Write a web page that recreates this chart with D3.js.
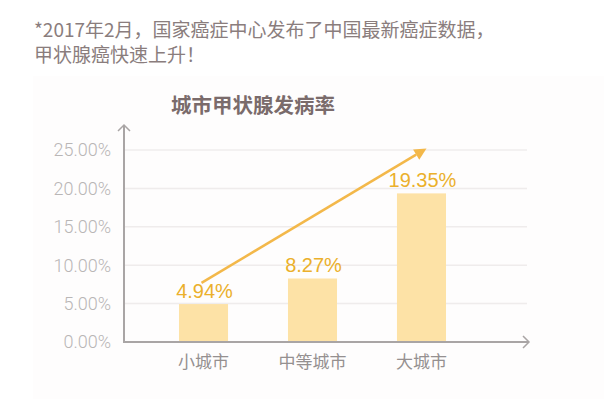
<!DOCTYPE html>
<html>
<head>
<meta charset="utf-8">
<script src="https://cdn.jsdelivr.net/npm/d3@7"></script>
<style>
  body { margin: 0; background: #fff; }
  svg { display: block; font-family: "Noto Sans CJK SC", "Noto Sans", sans-serif; }
</style>
</head>
<body>
<svg id="chart" width="604" height="399"></svg>
<script>
var categories = ["小城市", "中等城市", "大城市"];
var rates = [4.94, 8.27, 19.35];
var tickValues = [0, 5, 10, 15, 20, 25];
var headerLines = ["*2017年2月，国家癌症中心发布了中国最新癌症数据，", "甲状腺癌快速上升！"];
var chartTitle = "城市甲状腺发病率";

var svg = d3.select("#chart");

// faint panel behind the chart
svg.append("rect")
  .attr("x", 33).attr("y", 76)
  .attr("width", 571).attr("height", 323)
  .attr("fill", "#fefdfd");

svg.selectAll(".header")
  .data(headerLines)
  .enter()
  .append("text")
  .attr("class", "header")
  .attr("x", 34)
  .attr("y", function(d, i){ return 37 + i * 25; })
  .attr("font-size", 19)
  .attr("fill", "#8a7d7d")
  .text(function(d){ return d; });

svg.append("text")
  .attr("x", 253)
  .attr("y", 113)
  .attr("text-anchor", "middle")
  .attr("font-size", 20.5)
  .attr("font-weight", "bold")
  .attr("fill", "#7a6b6b")
  .text(chartTitle);

var y = d3.scaleLinear().domain([0, 25]).range([342, 150]);
var x = d3.scaleBand()
  .domain(categories)
  .range([124.5, 500.5])
  .paddingInner(0.55)
  .paddingOuter(0.5);

// grid lines
svg.selectAll(".grid")
  .data(tickValues.slice(1))
  .enter()
  .append("line")
  .attr("x1", 125).attr("x2", 527)
  .attr("y1", function(d){ return y(d); })
  .attr("y2", function(d){ return y(d); })
  .attr("stroke", "#efecec")
  .attr("stroke-width", 1.5);

// y tick labels
svg.selectAll(".ytick")
  .data(tickValues)
  .enter()
  .append("text")
  .attr("x", 111)
  .attr("y", function(d){ return y(d); })
  .attr("dy", "0.36em")
  .attr("text-anchor", "end")
  .attr("font-family", "Roboto, 'Liberation Sans', sans-serif")
  .attr("font-size", 18)
  .attr("font-weight", 300)
  .attr("fill", "#b9b6b6")
  .text(function(d){ return d3.format(".2f")(d) + "%"; });

// bars
svg.selectAll(".bar")
  .data(rates)
  .enter()
  .append("rect")
  .attr("x", function(d, i){ return x(categories[i]); })
  .attr("y", function(d){ return y(d); })
  .attr("width", x.bandwidth())
  .attr("height", function(d){ return y(0) - y(d); })
  .attr("fill", "#fde2a6");

// value labels
svg.selectAll(".val")
  .data(rates)
  .enter()
  .append("text")
  .attr("x", function(d, i){ return x(categories[i]) + x.bandwidth() / 2 + 1; })
  .attr("y", function(d){ return y(d) - 6; })
  .attr("text-anchor", "middle")
  .attr("font-family", "'Liberation Sans', Arial, sans-serif")
  .attr("font-size", 20)
  .attr("fill", "#ebb02c")
  .text(function(d){ return d3.format(".2f")(d) + "%"; });

// axes with open arrow heads
var axisColor = "#a9a5a5";
svg.append("line")
  .attr("x1", 124).attr("x2", 124)
  .attr("y1", y(0) + 1).attr("y2", 125)
  .attr("stroke", axisColor).attr("stroke-width", 2);
svg.append("path")
  .attr("d", "M118,131 L124,125 L130,131")
  .attr("fill", "none").attr("stroke", axisColor).attr("stroke-width", 1.5);
svg.append("line")
  .attr("x1", 123).attr("x2", 529)
  .attr("y1", y(0)).attr("y2", y(0))
  .attr("stroke", axisColor).attr("stroke-width", 2);
svg.append("path")
  .attr("d", "M523," + (y(0) - 6) + " L529," + y(0) + " L523," + (y(0) + 6))
  .attr("fill", "none").attr("stroke", axisColor).attr("stroke-width", 1.5);

// category labels
svg.selectAll(".cat")
  .data(categories)
  .enter()
  .append("text")
  .attr("x", function(d){ return x(d) + x.bandwidth() / 2; })
  .attr("y", 368)
  .attr("text-anchor", "middle")
  .attr("font-size", 17)
  .attr("fill", "#959090")
  .text(function(d){ return d; });

// trend arrow
var arrowColor = "#f3b84a";
var x0 = x(categories[0]) + x.bandwidth() / 2 - 2, y0 = y(7.7);
var x1 = x(categories[2]) + x.bandwidth() / 2 + 5, y1 = y(25.2);
var ang = Math.atan2(y1 - y0, x1 - x0);
var hx = x1 - 12 * Math.cos(ang), hy = y1 - 12 * Math.sin(ang);
svg.append("line")
  .attr("x1", x0).attr("y1", y0)
  .attr("x2", hx).attr("y2", hy)
  .attr("stroke", arrowColor).attr("stroke-width", 2.5);
svg.append("path")
  .attr("d", "M" + x1 + "," + y1 +
    " L" + (hx + 6 * Math.sin(ang)) + "," + (hy - 6 * Math.cos(ang)) +
    " L" + (hx - 6 * Math.sin(ang)) + "," + (hy + 6 * Math.cos(ang)) + "Z")
  .attr("fill", arrowColor);
</script>
</body>
</html>
